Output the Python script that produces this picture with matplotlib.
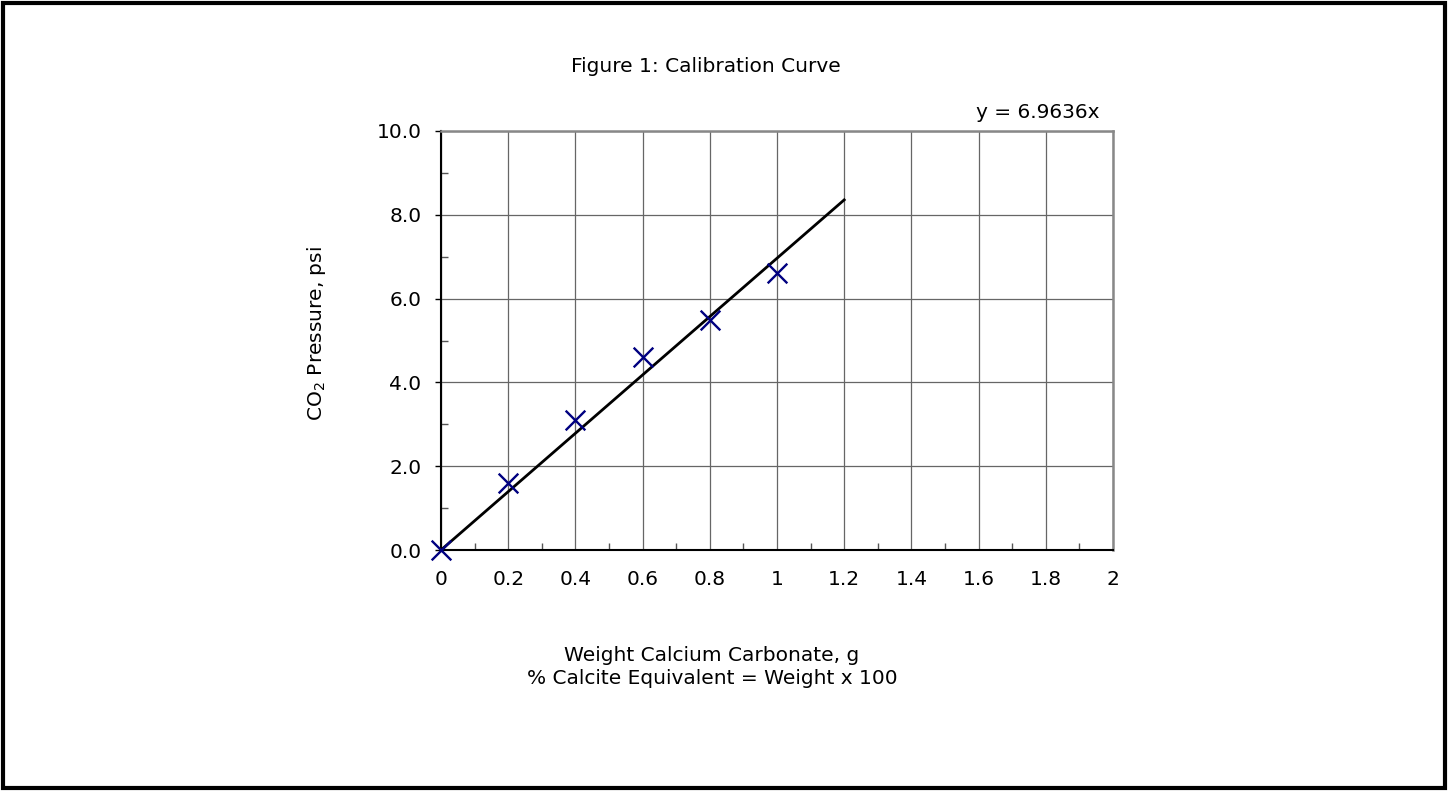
import matplotlib
matplotlib.use("Agg")
import matplotlib.pyplot as plt
import numpy as np
from matplotlib.patches import Rectangle

weights = [0.0, 0.2, 0.4, 0.6, 0.8, 1.0]
pressures = [0.0, 1.6, 3.1, 4.6, 5.5, 6.6]
slope = 6.9636
trend_x = [0.0, 1.2]
x_tick_labels = ['0', '0.2', '0.4', '0.6', '0.8', '1', '1.2', '1.4', '1.6', '1.8', '2']

W, H = 1448, 791
fig = plt.figure(figsize=(W/100, H/100), dpi=100)
plt.rcParams['font.family'] = ['DejaVu Sans']
FS = 14.5

# outer border
fig.patches.append(Rectangle((3/W, 3/H), (W-6)/W, (H-6)/H, transform=fig.transFigure,
                             fill=False, edgecolor='black', linewidth=3))

ax = fig.add_axes([441/W, 1-550/H, (1113-441)/W, (550-131)/H])
ax.set_xlim(0, 2)
ax.set_ylim(0, 10)

xt = np.arange(0, 2.01, 0.2)
ax.set_xticks(xt)
ax.set_xticklabels(x_tick_labels)
ax.set_xticks(np.arange(0.1, 2.0, 0.2), minor=True)
yt = np.arange(0, 10.1, 2)
ax.set_yticks(yt)
ax.set_yticklabels([f"{v:.1f}" for v in yt])
ax.set_yticks(np.arange(1, 10, 2), minor=True)

ax.tick_params(axis='x', which='major', length=0, pad=14.5, labelsize=FS)
ax.tick_params(axis='x', which='minor', direction='in', length=5, width=1, color='#555555')
ax.tick_params(axis='y', which='major', direction='out', length=4, width=1, pad=10, labelsize=FS)
ax.tick_params(axis='y', which='minor', direction='in', length=5, width=1, color='#555555')

ax.grid(True, which='major', color='#666666', linewidth=0.9)
ax.set_axisbelow(True)
for s in ['top', 'right']:
    ax.spines[s].set_color('#888888')
    ax.spines[s].set_linewidth(1.8)
for s in ['left', 'bottom']:
    ax.spines[s].set_color('black')
    ax.spines[s].set_linewidth(1.5)

tx = np.array(trend_x)
ax.plot(tx, slope*tx, color='black', linewidth=2, zorder=3, clip_on=False)
ax.scatter(weights, pressures, marker='x', s=200, color='#000080', linewidths=1.7, zorder=4, clip_on=False)

fig.text(706/W, 1-66/H, 'Figure 1: Calibration Curve', ha='center', va='center', fontsize=FS)
fig.text(1100/W, 1-113/H, 'y = 6.9636x', ha='right', va='center', fontsize=FS)
fig.text(317/W, 1-334/H, 'CO$_2$ Pressure, psi', rotation=90, ha='center', va='center', fontsize=FS)
fig.text(712/W, 1-667/H, 'Weight Calcium Carbonate, g\n% Calcite Equivalent = Weight x 100',
         ha='center', va='center', fontsize=FS, linespacing=1.3)

fig.savefig('out.png', dpi=100)
